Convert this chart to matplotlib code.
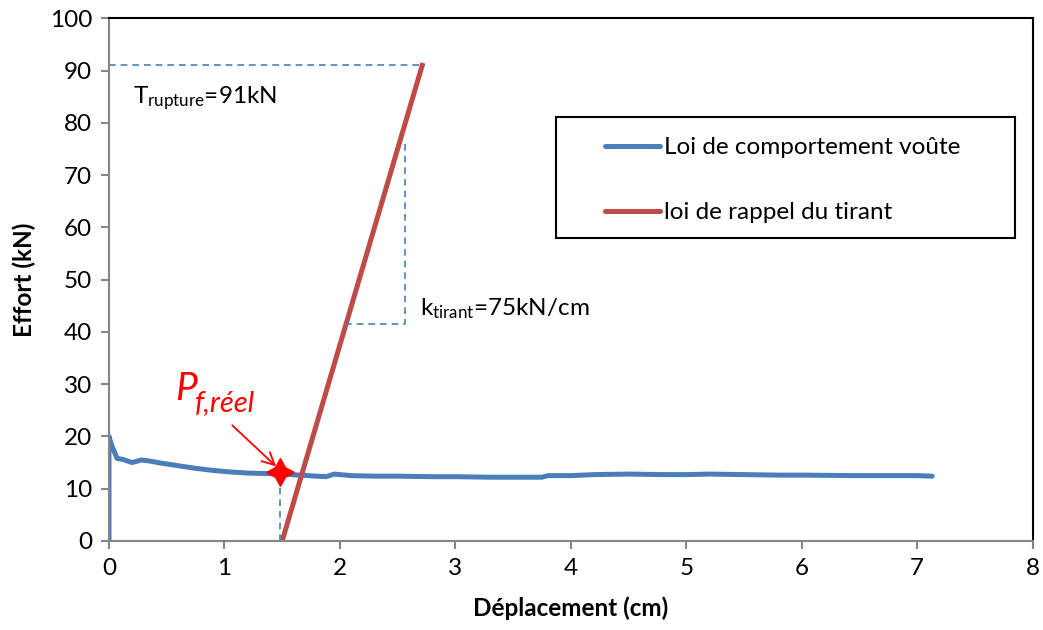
import matplotlib.pyplot as plt
from matplotlib.patches import Rectangle
from matplotlib.lines import Line2D

plt.rcParams['font.family'] = ['Lato', 'DejaVu Sans']
plt.rcParams['mathtext.default'] = 'regular'

# Loi de comportement de la voûte
deplacement = [0, 0, 0.02, 0.07, 0.12, 0.2, 0.28, 0.35, 0.45, 0.6, 0.75, 0.9, 1.05,
               1.2, 1.35, 1.5, 1.65, 1.8, 1.88, 1.95, 2.1, 2.3, 2.5, 2.8, 3.0, 3.3,
               3.6, 3.75, 3.8, 4.0, 4.2, 4.5, 4.8, 5.0, 5.2, 5.5, 5.8, 6.0, 6.5, 7.0, 7.13]
effort = [0, 20, 18.5, 15.8, 15.6, 15.0, 15.5, 15.3, 14.9, 14.4, 13.9, 13.5, 13.2,
          13.0, 12.9, 12.8, 12.6, 12.4, 12.3, 12.8, 12.5, 12.4, 12.4, 12.3, 12.3, 12.2,
          12.2, 12.2, 12.5, 12.5, 12.7, 12.8, 12.7, 12.7, 12.8, 12.7, 12.6, 12.6, 12.5, 12.5, 12.4]

# Loi de rappel du tirant : k = 75 kN/cm, T rupture = 91 kN
d0_tirant = 1.5
k_tirant = 75
t_rupture = 91
tirant_x = [d0_tirant, d0_tirant + t_rupture / k_tirant]
tirant_y = [0, t_rupture]

# Point de fonctionnement
pf_x, pf_y = 1.48, 13.2

bleu = '#4A7EBB'
rouge = '#BE4B48'
gris = '#868686'
fs = 17.5

fig = plt.figure(figsize=(10.43, 6.30), dpi=100)
ax = fig.add_axes([0.1045, 0.1413, 0.8855, 0.8297])

ax.plot(deplacement, effort, color=bleu, lw=3.6, solid_capstyle='round', solid_joinstyle='round')
ax.plot(tirant_x, tirant_y, color=rouge, lw=3.6)

# lignes de construction en pointillés
dash = dict(color=bleu, lw=1.2, ls=(0, (4, 3)))
ax.plot([0, tirant_x[1]], [t_rupture, t_rupture], **dash)
ax.plot([2.04, 2.56, 2.56], [41.5, 41.5, 76.5], **dash)
ax.plot([pf_x, pf_x], [0, pf_y], **dash)

# point de fonctionnement et annotation
ax.plot([pf_x], [pf_y], marker=(4, 1, 0), color='red', markersize=20, ls='none')
ax.annotate('', xy=(1.465, 13.9), xytext=(1.05, 22.5),
            arrowprops=dict(arrowstyle='->', color='red', lw=1.3, mutation_scale=22))
ax.text(0.57, 27, 'P', color='red', fontsize=28, style='italic', va='baseline')
ax.text(0.745, 24.9, 'f,réel', color='red', fontsize=21, style='italic', va='baseline')

ax.text(0.21, 83.7, r'T$_{rupture}$=91kN', fontsize=fs, va='baseline')
ax.text(2.69, 43.2, r'k$_{tirant}$=75kN/cm', fontsize=fs, va='baseline')

ax.set_xlim(0, 8)
ax.set_ylim(0, 100)
ax.set_xticks(range(0, 9))
ax.set_yticks(range(0, 101, 10))
ax.tick_params(direction='out', length=6, width=1.5, color=gris, labelsize=fs, pad=6)
for s in ['left', 'bottom']:
    ax.spines[s].set_color(gris)
    ax.spines[s].set_linewidth(1.5)
for s in ['top', 'right']:
    ax.spines[s].set_color('black')
    ax.spines[s].set_linewidth(1.5)

ax.set_xlabel('Déplacement (cm)', fontsize=fs, fontweight='bold', labelpad=13)
ax.set_ylabel('Effort (kN)', fontsize=fs, fontweight='bold', labelpad=10)

# légende
ax.add_patch(Rectangle((0.4838, 0.579), 0.4968, 0.2318, transform=ax.transAxes,
                       fill=False, edgecolor='black', lw=1.5, zorder=5))
handles = [Line2D([], [], color=bleu, lw=3.6, solid_capstyle='round'),
           Line2D([], [], color=rouge, lw=3.6, solid_capstyle='round')]
ax.legend(handles, ['Loi de comportement voûte', 'loi de rappel du tirant'],
          loc='upper left', bbox_to_anchor=(0.537, 0.772), frameon=False,
          fontsize=fs, borderpad=0, borderaxespad=0, handlelength=2.26,
          handletextpad=0.15, labelspacing=1.8)

fig.savefig('out.png', dpi=100)
